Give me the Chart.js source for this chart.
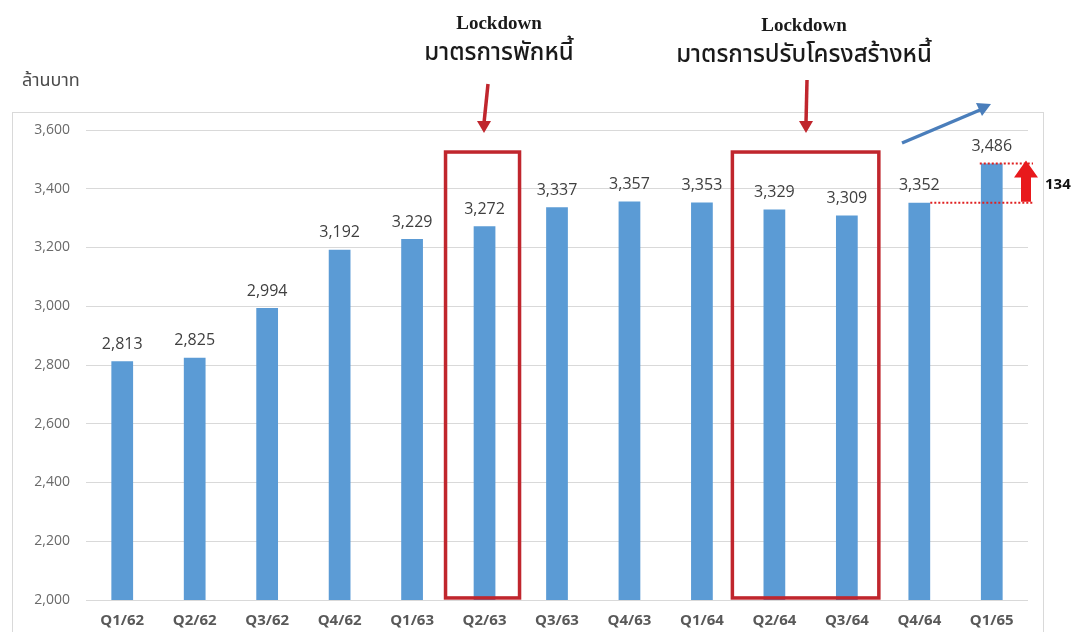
<!DOCTYPE html>
<html>
<head>
<meta charset="utf-8">
<script src="https://cdn.jsdelivr.net/npm/chart.js@4"></script>
<style>
  html, body { margin: 0; padding: 0; background: #fff; }
  #wrap { width: 1075px; height: 632px; }
</style>
</head>
<body>
<div id="wrap"><canvas id="debtChart" width="1075" height="632"></canvas></div>
<script>
const quarters = ["Q1/62", "Q2/62", "Q3/62", "Q4/62", "Q1/63", "Q2/63", "Q3/63", "Q4/63", "Q1/64", "Q2/64", "Q3/64", "Q4/64", "Q1/65"];
const debt = [2813, 2825, 2994, 3192, 3229, 3272, 3337, 3357, 3353, 3329, 3309, 3352, 3486];
const yTicks = [2000, 2200, 2400, 2600, 2800, 3000, 3200, 3400, 3600];
const unitLabel = "ล้านบาท";
const note1 = ["Lockdown", "มาตรการพักหนี้"];
const note2 = ["Lockdown", "มาตรการปรับโครงสร้างหนี้"];
const diffLabel = "134";

const thaiFont = "'Noto Sans Thai', 'Noto Sans', 'DejaVu Sans', sans-serif";
const red = "#c0262d";

function arrowDown(c, x1, y1, x2, y2) {
  c.save();
  c.strokeStyle = red; c.fillStyle = red; c.lineWidth = 3.5;
  c.beginPath(); c.moveTo(x1, y1); c.lineTo(x2, y2 - 10); c.stroke();
  c.beginPath(); c.moveTo(x2 - 7, y2 - 12); c.lineTo(x2 + 7, y2 - 12); c.lineTo(x2, y2); c.closePath(); c.fill();
  c.restore();
}

const extras = {
  id: "extras",
  afterDraw(chart) {
    const c = chart.ctx, x = chart.scales.x, y = chart.scales.y;
    c.save();
    // outer border
    c.strokeStyle = "#d9d9d9"; c.lineWidth = 1;
    c.strokeRect(12.5, 112.5, 1031, 560);

    // unit label
    c.fillStyle = "#4a4a4a"; c.font = "18px " + thaiFont;
    c.textAlign = "left"; c.textBaseline = "middle";
    c.fillText(unitLabel, 22, 82);

    // data labels
    c.fillStyle = "#404040"; c.font = "16px 'Open Sans', sans-serif"; c.textAlign = "center";
    debt.forEach((v, i) => {
      c.fillText(v.toLocaleString("en-US"), x.getPixelForValue(i), y.getPixelForValue(v) - 17);
    });

    // red boxes
    c.strokeStyle = red; c.lineWidth = 3.5;
    const top = y.getPixelForValue(3525), bot = y.getPixelForValue(2007);
    let l = x.getPixelForValue(5) - 39, r = x.getPixelForValue(5) + 35;
    c.strokeRect(l, top, r - l, bot - top);
    l = x.getPixelForValue(9) - 42; r = x.getPixelForValue(10) + 32;
    c.strokeRect(l, top, r - l, bot - top);

    // notes
    c.fillStyle = "#1a1a1a"; c.textAlign = "center";
    c.font = "bold 19px 'Liberation Serif', serif";
    c.fillText(note1[0], 499, 24);
    c.fillText(note2[0], 804, 26);
    c.font = "500 24px " + thaiFont;
    c.fillText(note1[1], 499, 55);
    c.fillText(note2[1], 804, 57);

    arrowDown(c, 488, 84, 484, 133);
    arrowDown(c, 807, 80, 806, 133);

    // blue arrow
    c.strokeStyle = "#4a7ebb"; c.fillStyle = "#4a7ebb"; c.lineWidth = 3.5;
    c.beginPath(); c.moveTo(902, 143); c.lineTo(980, 110); c.stroke();
    c.beginPath(); c.moveTo(991, 104); c.lineTo(976, 103); c.lineTo(982, 116); c.closePath(); c.fill();

    // dotted difference lines
    const yHi = y.getPixelForValue(debt[12]), yLo = y.getPixelForValue(debt[11]);
    c.strokeStyle = "#e02020"; c.lineWidth = 2; c.setLineDash([2, 2]);
    c.beginPath();
    c.moveTo(x.getPixelForValue(12) - 12, yHi); c.lineTo(1033, yHi);
    c.moveTo(x.getPixelForValue(11) + 11, yLo); c.lineTo(1033, yLo);
    c.stroke(); c.setLineDash([]);

    // red block arrow up
    const ax = 1026;
    c.fillStyle = "#e8191c";
    c.beginPath();
    c.moveTo(ax - 5, yLo - 1); c.lineTo(ax + 5, yLo - 1); c.lineTo(ax + 5, yHi + 14);
    c.lineTo(ax + 12, yHi + 14); c.lineTo(ax, yHi - 3); c.lineTo(ax - 12, yHi + 14);
    c.lineTo(ax - 5, yHi + 14); c.closePath(); c.fill();

    c.fillStyle = "#111"; c.font = "bold 15px 'Open Sans', sans-serif"; c.textAlign = "left";
    c.fillText(diffLabel, 1045, (yHi + yLo) / 2 + 2);
    c.restore();
  }
};

new Chart(document.getElementById("debtChart").getContext("2d"), {
  type: "bar",
  data: {
    labels: quarters,
    datasets: [{
      data: debt,
      backgroundColor: "#5b9bd5",
      barPercentage: 0.3,
      categoryPercentage: 1
    }]
  },
  options: {
    responsive: false,
    animation: false,
    events: [],
    layout: { padding: { top: 130, right: 47, left: 0, bottom: 0 } },
    plugins: { legend: { display: false }, tooltip: { enabled: false } },
    scales: {
      x: {
        grid: { display: false },
        border: { display: false },
        ticks: { color: "#595959", font: { size: 15, weight: "bold", family: "'Open Sans', sans-serif" }, padding: 4, maxRotation: 0 },
        afterFit(s) { s.height = 32; }
      },
      y: {
        min: 2000, max: 3600,
        afterBuildTicks(s) { s.ticks = yTicks.map(v => ({ value: v })); },
        grid: { color: "#d9d9d9", drawTicks: false },
        border: { display: false },
        ticks: {
          color: "#6a6a6a", padding: 16,
          font: { size: 14, family: "'Open Sans', sans-serif" },
          callback: v => v.toLocaleString("en-US")
        },
        afterFit(s) { s.width = 86; }
      }
    }
  },
  plugins: [extras]
});
</script>
</body>
</html>
